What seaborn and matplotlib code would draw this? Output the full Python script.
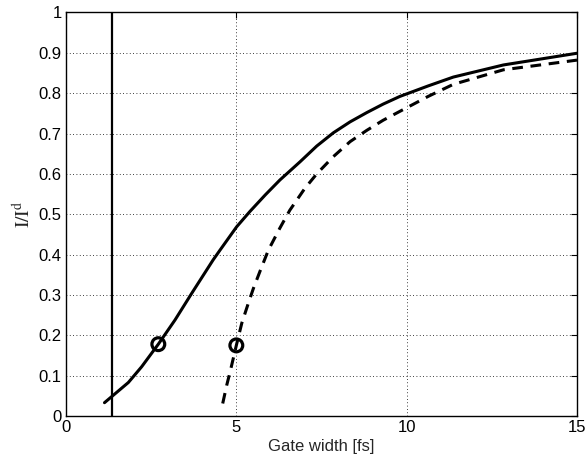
import matplotlib
matplotlib.use("Agg")
import matplotlib.pyplot as plt
import seaborn as sns
import pandas as pd

solid_x = [1.13, 1.34, 1.83, 2.22, 2.71, 3.20, 3.69, 4.32, 4.52, 5.01, 5.40, 5.85, 6.28,
           6.87, 7.36, 7.85, 8.34, 8.83, 9.31, 9.80, 10.63, 11.37, 12.84, 15.0]
solid_y = [0.033, 0.048, 0.083, 0.122, 0.178, 0.238, 0.304, 0.387, 0.411, 0.469, 0.507, 0.548, 0.585,
           0.630, 0.669, 0.702, 0.729, 0.752, 0.773, 0.792, 0.818, 0.840, 0.870, 0.899]

dashed_x = [4.60, 4.72, 4.83, 5.00, 5.16, 5.35, 5.50, 5.71, 5.94, 6.28, 6.57, 7.01, 7.36,
            7.85, 8.34, 8.83, 9.31, 9.80, 10.63, 11.37, 12.84, 15.0]
dashed_y = [0.031, 0.077, 0.114, 0.175, 0.230, 0.279, 0.316, 0.362, 0.411, 0.466, 0.510, 0.564, 0.600,
            0.643, 0.680, 0.708, 0.733, 0.755, 0.792, 0.822, 0.858, 0.882]

marker_x = [2.71, 5.00]
marker_y = [0.178, 0.175]

vline_x = 1.35

x_ticks = [0, 5, 10, 15]
y_ticks = [0, 0.1, 0.2, 0.3, 0.4, 0.5, 0.6, 0.7, 0.8, 0.9, 1]
y_ticklabels = ["0", "0.1", "0.2", "0.3", "0.4", "0.5", "0.6", "0.7", "0.8", "0.9", "1"]

sns.set_style("white")
plt.rcParams['font.family'] = ['Liberation Sans', 'DejaVu Sans']
plt.rcParams['mathtext.fontset'] = 'stix'

fig = plt.figure(figsize=(5.87, 4.61), dpi=100)
ax = fig.add_axes([66/587, 45/461, 511/587, 403.5/461])

df_s = pd.DataFrame({"x": solid_x, "y": solid_y})
df_d = pd.DataFrame({"x": dashed_x, "y": dashed_y})
df_m = pd.DataFrame({"x": marker_x, "y": marker_y})

sns.lineplot(data=df_s, x="x", y="y", ax=ax, color="black", lw=2.2,
             sort=False, estimator=None, solid_joinstyle="round")
sns.lineplot(data=df_d, x="x", y="y", ax=ax, color="black", lw=2.2,
             sort=False, estimator=None, linestyle=(0, (3.5, 2.5)))
ax.axvline(vline_x, color="black", lw=1.6)
sns.scatterplot(data=df_m, x="x", y="y", ax=ax, marker="o", s=85,
                facecolor="none", edgecolor="black", linewidth=2.3, zorder=5)

ax.set_xlim(0, 15)
ax.set_ylim(0, 1)
ax.set_xticks(x_ticks)
ax.set_xticklabels([str(t) for t in x_ticks])
ax.set_yticks(y_ticks)
ax.set_yticklabels(y_ticklabels)
ax.grid(True, color="black", linestyle=(0, (1, 3)), lw=0.6)
ax.tick_params(direction="in", top=True, right=True, length=4, width=0.8,
               labelsize=12, colors="black", pad=3)
for sp in ax.spines.values():
    sp.set_color("black")
    sp.set_linewidth(1.0)

ax.set_xlabel("Gate width [fs]", fontsize=12, labelpad=3)
ax.set_ylabel(r"$\mathrm{I/I^{d}}$", fontsize=14, labelpad=3)

fig.savefig("out.png", dpi=100)
